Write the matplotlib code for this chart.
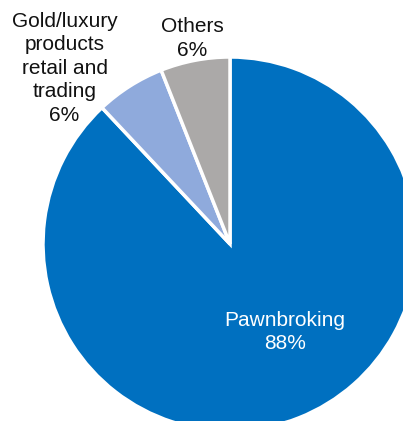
import matplotlib
matplotlib.use("Agg")
import matplotlib.pyplot as plt

plt.rcParams["font.family"] = ["Liberation Sans", "DejaVu Sans"]

# data
labels = ["Pawnbroking", "Gold/luxury\nproducts\nretail and\ntrading", "Others"]
shares = [88, 6, 6]
colors = ["#0070C0", "#8FAADC", "#ABA9A8"]
text_colors = ["white", "#111111", "#111111"]
# label positions in pie radius units
label_pos = [(0.295, -0.47), (-0.885, 0.94), (-0.20, 1.10)]

fig = plt.figure(figsize=(4.03, 4.21), dpi=100)
ax = fig.add_axes((0, 0, 1, 1))

ax.pie(
    shares,
    colors=colors,
    startangle=90,
    counterclock=False,
    radius=1.0,
    wedgeprops=dict(edgecolor="white", linewidth=2.5),
)

for lab, val, (x, y), c in zip(labels, shares, label_pos, text_colors):
    ax.text(x, y, "{}\n{}%".format(lab, val), ha="center", va="center",
            fontsize=15, color=c, linespacing=1.3)

# pie centre at (230, 244) px, radius 187 px
ax.set_xlim(-230 / 187, (403 - 230) / 187)
ax.set_ylim(-(421 - 244) / 187, 244 / 187)
ax.set_aspect("equal")
ax.axis("off")

fig.savefig("out.png", dpi=100)
